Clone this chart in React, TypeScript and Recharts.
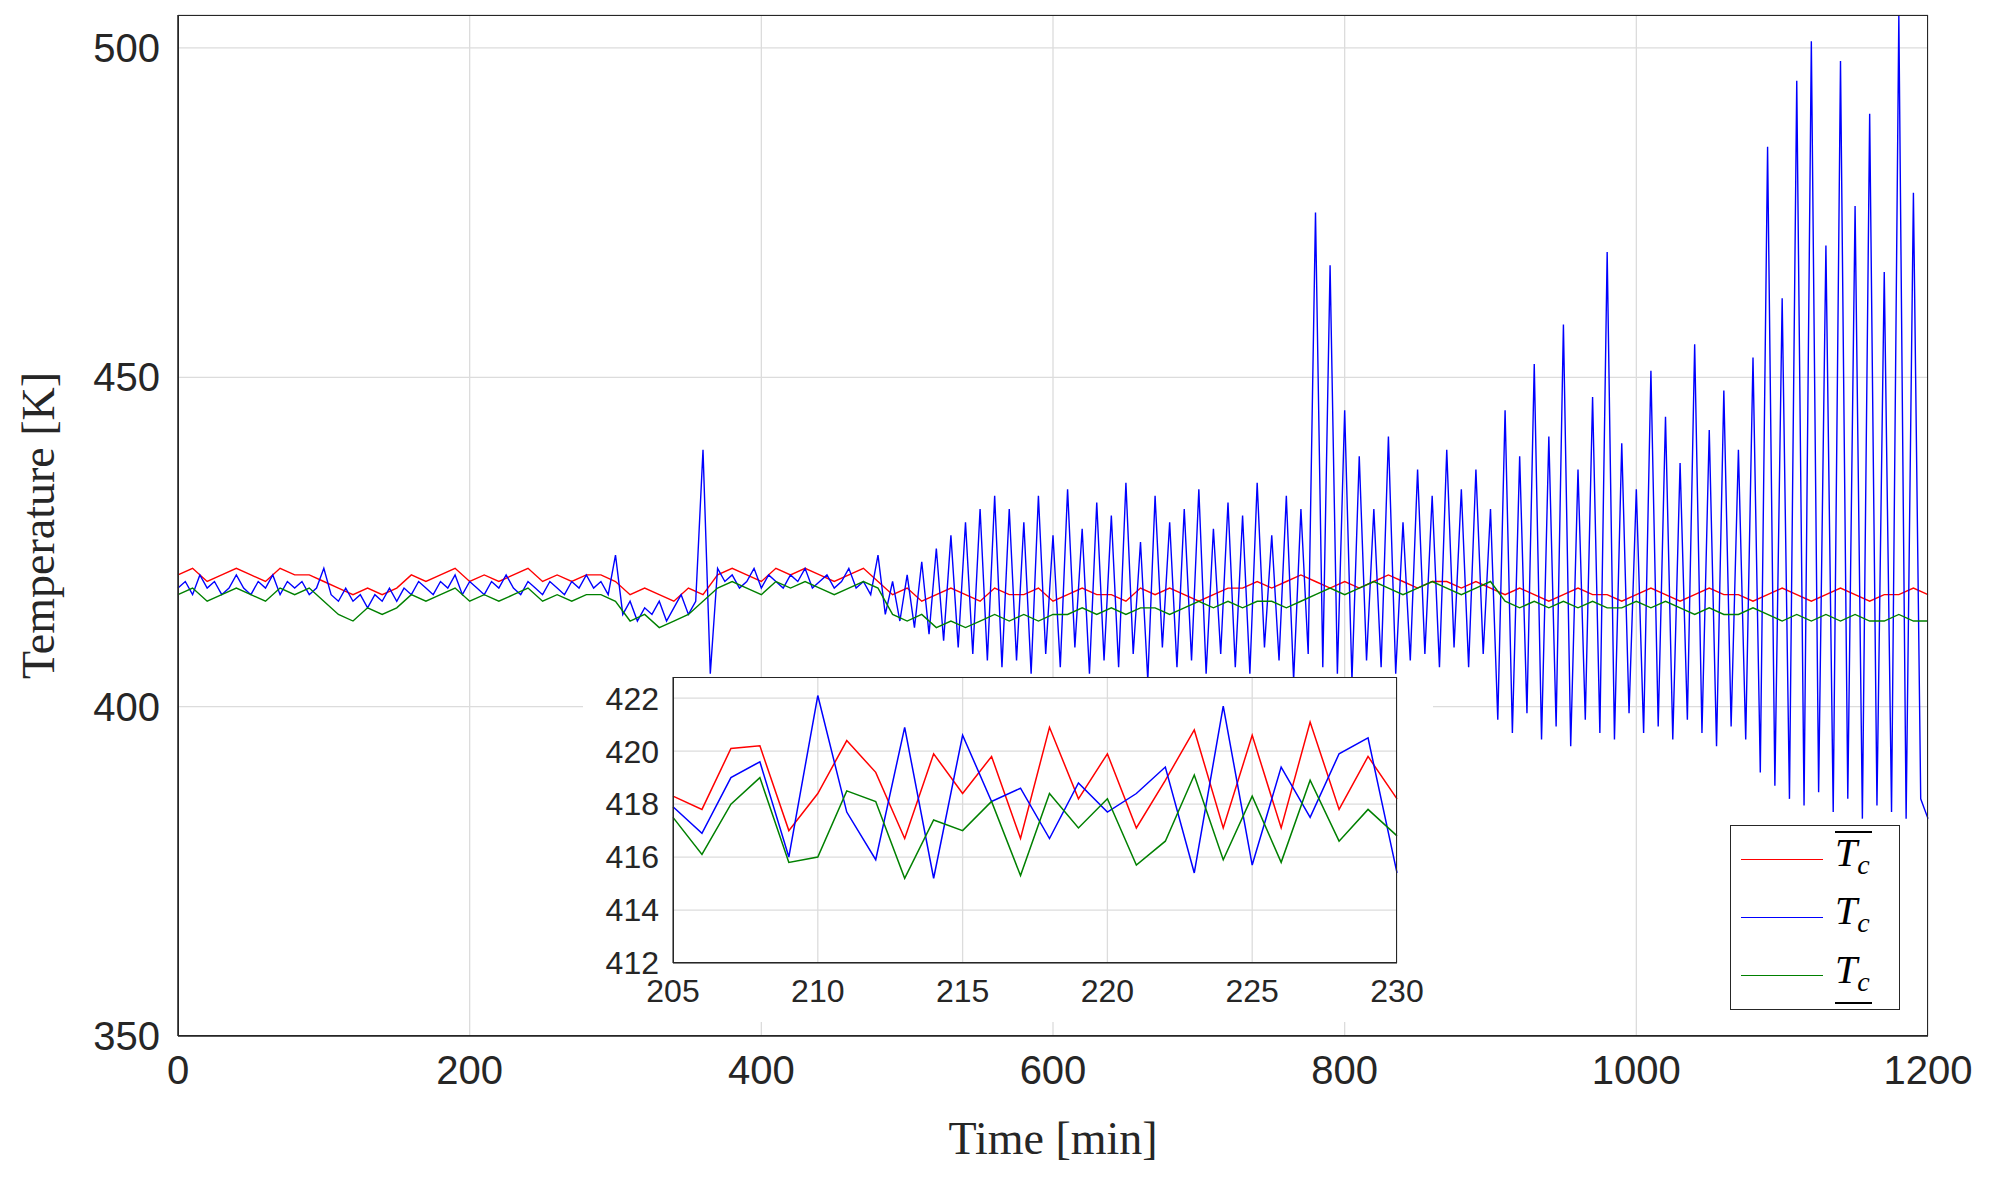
import React from "react"
import { LineChart, Line, XAxis, YAxis, CartesianGrid } from "recharts"

// main series: blue every 5 min, red/green every 10 min
const blueSeg1 = [418,419,417,420,418,419,417,418,420,418,417,419,418,420,417,419,418,419,417,418,421]
const blueSeg2 = [417,416,418,416,417,415,417,416,418,416]
const blueSeg3 = [418,417,419,418,417,419,418,420,417,419,418,417,419,418,420,418,417,419,418,417,419,418,417,419,418,420,418,419,417,423]
const blueSeg4 = [414,416,413,415,414,416,413,415,417,414,416,439]
const blueSeg5 = [405,421,419,420,418,419,421,418,420,419,418,420,419,421,418,419,420,418,419,421,418,419,417,423]
const blueSeg6 = [414,419,413,420,412,422,411,424,410,426,409,428,408,430,407,432]
const blueSeg7 = [
  406,430,407,428,405,432,408,426,406,433,
  409,427,405,431,407,429,406,434,408,425,
  404,432,409,428,406,430,407,433,405,427,
  408,431,406,429,405,434,409,426,407,432,
  404,430,408,475,406,467,405,445,404,438,
  407,430,406,441,405,428,407,436,408,432,
  406,439,409,433,406,436,408,430,
]
const blueSeg8 = [398,445,396,438,399,452,395,441,397,458,394,436,398,447,396,469,395,440,399,433,396,451,397,444,395,437,398,455,396,442,394,448,397,439,395,453]
const blueSeg9 = [390,485,388,462,386,495,385,501,387,470,384,498,386,476,383,490,385,466,384,505,383,478,386,383]
const blueValues = [...blueSeg1, ...blueSeg2, ...blueSeg3, ...blueSeg4, ...blueSeg5, ...blueSeg6, ...blueSeg7, ...blueSeg8, ...blueSeg9]

const redValues = [
  420,421,419,420,421,420,419,421,420,420,419,
  418,417,418,417,418,
  420,419,420,421,419,420,419,420,421,419,420,419,420,420,419,
  417,418,417,416,418,417,
  420,421,420,419,421,420,421,420,419,420,421,419,
  417,418,416,417,418,417,416,418,417,417,418,416,417,418,417,417,416,418,417,418,417,416,417,418,418,419,418,419,420,419,418,419,418,419,420,419,418,419,419,418,419,418,
  417,418,417,416,417,418,417,417,416,417,418,417,416,417,418,417,417,416,417,418,417,416,417,418,417,416,417,417,418,417,
]
const greenValues = [
  417,418,416,417,418,417,416,418,417,418,416,
  414,413,415,414,415,
  417,416,417,418,416,417,416,417,418,416,417,416,417,417,416,
  413,414,412,413,414,416,
  418,419,418,417,419,418,419,418,417,418,419,418,
  414,413,414,412,413,412,413,414,413,414,413,414,414,415,414,415,414,415,415,414,415,416,415,416,415,416,416,415,416,417,418,417,418,419,418,417,418,419,418,417,418,419,
  416,415,416,415,416,415,416,415,415,416,415,416,415,414,415,414,414,415,414,413,414,413,414,413,414,413,413,414,413,413,
]

// inset 205..230 min, 1 min steps
const insetRed = [418.3,417.8,420.1,420.2,417.0,418.4,420.4,419.2,416.7,419.9,418.4,419.8,416.7,420.9,418.2,419.9,417.1,418.9,420.8,417.1,420.6,417.1,421.1,417.8,419.8,418.2]
const insetBlue = [417.9,416.9,419.0,419.6,416.0,422.1,417.7,415.9,420.9,415.2,420.6,418.1,418.6,416.7,418.8,417.7,418.4,419.4,415.4,421.7,415.7,419.4,417.5,419.9,420.5,415.4]
const insetGreen = [417.5,416.1,418.0,419.0,415.8,416.0,418.5,418.1,415.2,417.4,417.0,418.1,415.3,418.4,417.1,418.2,415.7,416.6,419.1,415.9,418.3,415.8,418.9,416.6,417.8,416.8]

const xTicks = [0, 200, 400, 600, 800, 1000, 1200]
const yTicks = [350, 400, 450, 500]
const insetXTicks = [205, 210, 215, 220, 225, 230]
const insetYTicks = [412, 414, 416, 418, 420, 422]

const mainData = blueValues.map((b, i) => {
  const t = i * 5
  const row: Record<string, number> = { t, blue: b }
  if (i % 2 === 0) {
    row.red = redValues[i / 2]
    row.green = greenValues[i / 2]
  }
  return row
})
const insetData = insetRed.map((r, i) => ({ t: 205 + i, red: r, blue: insetBlue[i], green: insetGreen[i] }))

const RED = "#ff0000"
const BLUE = "#0000ff"
const GREEN = "#008000"
const TXT = "#262626"
const SANS = "'Liberation Sans', Arial, sans-serif"
const SERIF = "'Liberation Serif', 'Times New Roman', serif"

const tick = { fill: TXT, fontSize: 40, fontFamily: SANS }
const gridProps = { stroke: "#dcdcdc", strokeWidth: 1.3 }

function Sym({ kind }: { kind: "over" | "plain" | "under" }) {
  return (
    <span style={{ fontFamily: SERIF, fontStyle: "italic", fontSize: 40, color: "#000", display: "inline-block", lineHeight: "40px",
      borderTop: kind === "over" ? "2px solid #000" : "2px solid transparent",
      borderBottom: kind === "under" ? "2px solid #000" : "2px solid transparent", paddingRight: 2 }}>
      T<span style={{ fontSize: 28, verticalAlign: -8 }}>c</span>
    </span>
  )
}

export default function App() {
  return (
    <div style={{ position: "relative", width: 1975, height: 1170, background: "#fff" }}>
      <LineChart width={1975} height={1170} data={mainData} margin={{ top: 7, right: 55, left: 0, bottom: 0 }}>
        <CartesianGrid {...gridProps} />
        <XAxis
          dataKey="t"
          type="number"
          domain={[0, 1200]}
          ticks={xTicks}
          height={142}
          tick={tick}
          tickLine={false}
          axisLine={{ stroke: TXT, strokeWidth: 1.5 }}
          tickMargin={14}
          label={{ value: "Time [min]", position: "insideBottom", offset: 24, style: { fontFamily: SERIF, fontSize: 46, fill: TXT } }}
        />
        <YAxis
          type="number"
          domain={[350, 505]}
          ticks={yTicks}
          width={170}
          tick={tick}
          tickLine={false}
          axisLine={{ stroke: TXT, strokeWidth: 1.5 }}
          tickMargin={12}
          label={{ value: "Temperature [K]", angle: -90, position: "insideLeft", offset: 30, style: { fontFamily: SERIF, fontSize: 46, fill: TXT, textAnchor: "middle" } }}
        />
        <Line dataKey="red" stroke={RED} strokeWidth={1.4} dot={false} connectNulls isAnimationActive={false} />
        <Line dataKey="blue" stroke={BLUE} strokeWidth={1.4} dot={false} isAnimationActive={false} />
        <Line dataKey="green" stroke={GREEN} strokeWidth={1.4} dot={false} connectNulls isAnimationActive={false} />
      </LineChart>
      <div style={{ position: "absolute", left: 170, top: 7, width: 1750, height: 1021, border: `1.5px solid ${TXT}`, boxSizing: "border-box", pointerEvents: "none" }} />

      <div style={{ position: "absolute", left: 575, top: 669, width: 850, height: 345, background: "#fff" }}>
        <LineChart width={850} height={345} data={insetData} margin={{ top: 0, right: 36, left: 0, bottom: 0 }}>
          <CartesianGrid {...gridProps} />
          <XAxis dataKey="t" type="number" domain={[205, 230]} ticks={insetXTicks} height={59} tick={{ ...tick, fontSize: 32 }} tickLine={false} axisLine={{ stroke: TXT }} tickMargin={10} />
          <YAxis type="number" domain={[412, 422.8]} ticks={insetYTicks} width={90} tick={{ ...tick, fontSize: 32 }} tickLine={false} axisLine={{ stroke: TXT }} tickMargin={8} />
          <Line dataKey="red" stroke={RED} strokeWidth={1.5} dot={false} isAnimationActive={false} />
          <Line dataKey="blue" stroke={BLUE} strokeWidth={1.5} dot={false} isAnimationActive={false} />
          <Line dataKey="green" stroke={GREEN} strokeWidth={1.5} dot={false} isAnimationActive={false} />
        </LineChart>
        <div style={{ position: "absolute", left: 90, top: 0, width: 724, height: 286, border: `1.5px solid ${TXT}`, boxSizing: "border-box", pointerEvents: "none" }} />
      </div>

      <div style={{ position: "absolute", left: 1722, top: 817, width: 170, height: 185, background: "#fff", border: `1.5px solid ${TXT}`, boxSizing: "border-box", display: "flex", flexDirection: "column", justifyContent: "space-around", padding: "4px 10px" }}>
        {([[RED, "over"], [BLUE, "plain"], [GREEN, "under"]] as const).map(([c, k]) => (
          <div key={k} style={{ display: "flex", alignItems: "center", gap: 12 }}>
            <div style={{ width: 82, height: 0, borderTop: `1.5px solid ${c}` }} />
            <Sym kind={k} />
          </div>
        ))}
      </div>
    </div>
  )
}
